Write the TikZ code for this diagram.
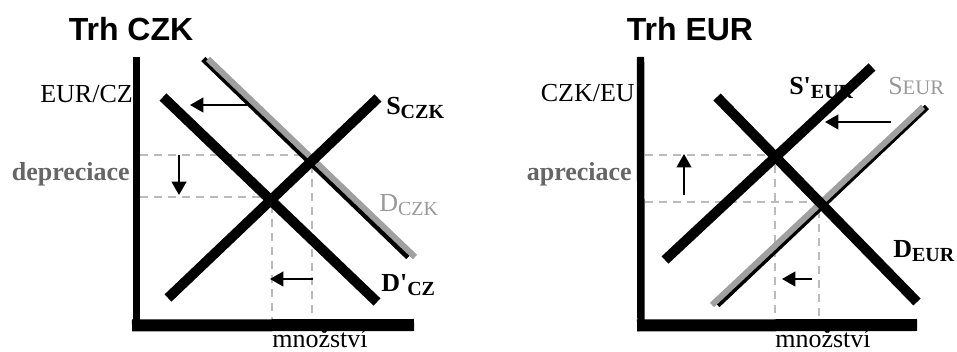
\documentclass[tikz,border=0pt]{standalone}
\usepackage{fontspec}
\setmainfont{Liberation Serif}
\newfontfamily\headfont{Liberation Sans}
\usetikzlibrary{arrows.meta}
\definecolor{shiftgray}{HTML}{A0A0A0}
\definecolor{labelgray}{HTML}{666666}
\definecolor{curvegray}{HTML}{999999}
\definecolor{guidegray}{HTML}{BBBBBB}
\newcommand{\subtxt}[1]{\raisebox{-0.12em}{\fontsize{15}{15}\selectfont #1}}
\newcommand{\captxt}[1]{{\fontsize{15.5}{15.5}\selectfont #1}}

\begin{document}
\begin{tikzpicture}[x=0.75pt,y=-0.75pt,
  yaxis/.style={line width=5.6pt},
  xaxis/.style={line width=9pt},
  curve/.style={line width=7.5pt},
  oldcurve/.style={line width=4.5pt, draw=shiftgray},
  oldedge/.style={line width=4.5pt},
  guide/.style={draw=guidegray, line width=1.1pt, dash pattern=on 6pt off 4.5pt},
  move/.style={line width=1.6pt, -{Triangle[length=10pt,width=11pt]}},
  title/.style={font=\headfont\bfseries\fontsize{24}{24}\selectfont, inner sep=0pt, anchor=base},
  lbl/.style={font=\fontsize{19.5}{20}\selectfont, inner sep=0pt}]
\useasboundingbox (0,0) rectangle (957,352);

% ---------------- Trh CZK ----------------
\node[title] (t1) at (131,41) {Trh CZK};
\node[lbl, anchor=base east] (ylab1) at (133,103) {EUR/CZ};
\node[lbl, anchor=base east, text=labelgray, font=\fontsize{19.5}{20}\selectfont\bfseries] (dep) at (130,181) {depreciace};
\node[lbl, anchor=base west, font=\fontsize{19.5}{20}\selectfont\bfseries] (sczk) at (386,115) {S\subtxt{CZK}};
\node[lbl, anchor=base west, text=curvegray] (dczk) at (379,212) {D\subtxt{CZK}};
\node[lbl, anchor=base west, font=\fontsize{19.5}{20}\selectfont\bfseries] (dpcz) at (381,292) {D\textquotesingle\subtxt{CZ}};
\node[lbl, anchor=base] (q1) at (320,348) {množství};

% guide lines
\coordinate (g1a) at (140,155); \coordinate (g1b) at (312,155);
\coordinate (g1c) at (140,197); \coordinate (g1d) at (272,197);
\coordinate (g1e) at (312,320); \coordinate (g1f) at (272,320);
\draw[guide] (g1a) -- (g1b) -- (g1e);
\draw[guide] (g1c) -- (g1d) -- (g1f);

% axes
\coordinate (y1) at (136.5,57); \coordinate (x1) at (414,325);
\draw[yaxis] (y1) -- (136.5,331);
\draw[xaxis] (132,325.5) -- (x1);

% original demand (grey with a dark edge) and shifted demand / supply
\coordinate (d1a) at (208,59); \coordinate (d1b) at (415,257);
\draw[oldedge] ([xshift=-3.5]d1a) -- ([xshift=-5]d1b);
\draw[oldcurve] (d1a) -- (d1b);
\coordinate (dp1a) at (163,97); \coordinate (dp1b) at (377,302);
\coordinate (s1a) at (168,298); \coordinate (s1b) at (378,98);
\draw[curve] (dp1a) -- (dp1b);
\draw[curve] (s1a) -- (s1b);

% shift arrows
\coordinate (a1s) at (247,105); \coordinate (a1e) at (190,105);
\coordinate (a2s) at (179,155); \coordinate (a2e) at (179,195);
\coordinate (a3s) at (313,279); \coordinate (a3e) at (270,279);
\draw[move] (a1s) -- (a1e);
\draw[move] (a2s) -- (a2e);
\draw[move] (a3s) -- (a3e);

% ---------------- Trh EUR ----------------
\node[title] (t2) at (690,41) {Trh EUR};
\node[lbl, anchor=base east] (ylab2) at (635,102) {CZK/EU};
\node[lbl, anchor=base east, text=labelgray, font=\fontsize{19.5}{20}\selectfont\bfseries] (apr) at (632,181) {apreciace};
\node[lbl, anchor=base west, font=\fontsize{19.5}{20}\selectfont\bfseries] (speur) at (789,95) {S\textquotesingle\subtxt{EUR}};
\node[lbl, anchor=base west, text=curvegray] (seur) at (888,95) {S\captxt{EUR}};
\node[lbl, anchor=base west, font=\fontsize{19.5}{20}\selectfont\bfseries] (deur) at (893,258) {D\subtxt{EUR}};
\node[lbl, anchor=base] (q2) at (823,348) {množství};

% guide lines
\coordinate (g2a) at (645,155); \coordinate (g2b) at (775,155);
\coordinate (g2c) at (645,202); \coordinate (g2d) at (819,202);
\coordinate (g2e) at (775,320); \coordinate (g2f) at (819,320);
\draw[guide] (g2a) -- (g2b) -- (g2e);
\draw[guide] (g2c) -- (g2d) -- (g2f);

% axes
\coordinate (y2) at (640.5,57); \coordinate (x2) at (917,325);
\draw[yaxis] (y2) -- (641,331);
\draw[xaxis] (637,325.5) -- (x2);

% original supply (grey with a dark edge) and shifted supply / demand
\coordinate (s2a) at (712,305); \coordinate (s2b) at (923,107);
\draw[oldedge] ([xshift=4]s2a) -- ([xshift=3]s2b);
\draw[oldcurve] (s2a) -- (s2b);
\coordinate (d2a) at (717,97); \coordinate (d2b) at (917,302);
\coordinate (sp2a) at (665,260); \coordinate (sp2b) at (872,67);
\draw[curve] (d2a) -- (d2b);
\draw[curve] (sp2a) -- (sp2b);

% shift arrows
\coordinate (b1s) at (891,122); \coordinate (b1e) at (825,122);
\coordinate (b2s) at (684,195); \coordinate (b2e) at (684,154);
\coordinate (b3s) at (812,279); \coordinate (b3e) at (782,279);
\draw[move] (b1s) -- (b1e);
\draw[move] (b2s) -- (b2e);
\draw[move] (b3s) -- (b3e);
\end{tikzpicture}
\end{document}
